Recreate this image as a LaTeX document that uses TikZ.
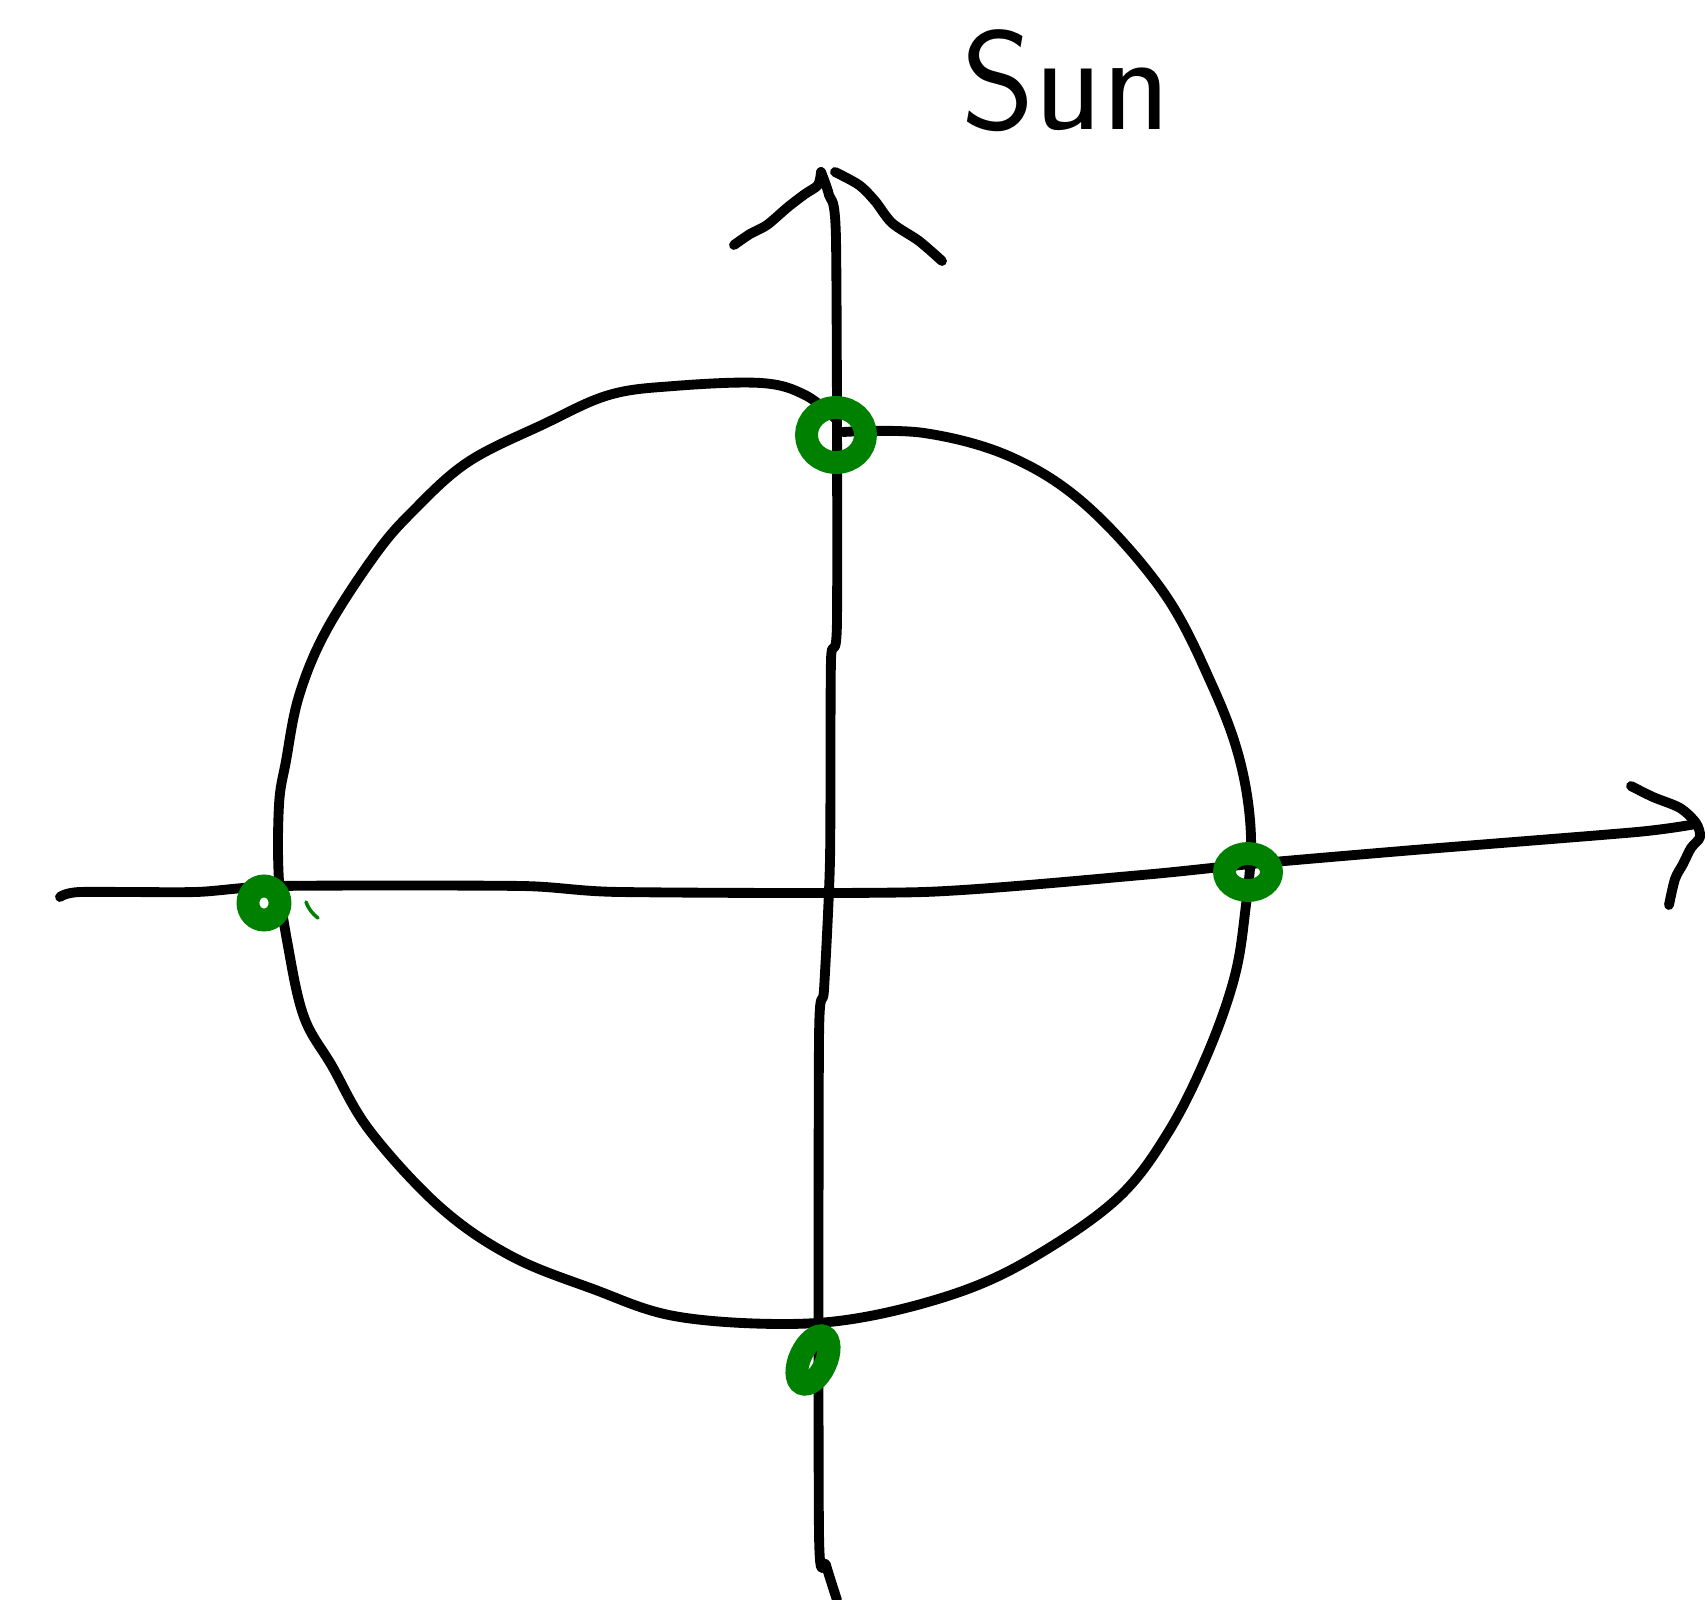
\documentclass[tikz,border=0pt]{standalone}
\usepackage{tikz}
\usetikzlibrary{positioning,shapes.geometric}
\definecolor{penblack}{RGB}{0,0,0}
\definecolor{pengreen}{RGB}{0,128,0}

\begin{document}
\begin{tikzpicture}[
    x=0.01cm, y=-0.01cm,
    ink/.style={
      draw=penblack,
      line width=2.8pt,
      line cap=round,
      line join=round
    },
    greenring/.style={
      ellipse,
      draw=pengreen,
      line width=6.5pt,
      inner sep=0pt
    },
    word/.style={
      font=\sffamily\fontsize{40}{44}\selectfont,
      inner sep=0pt,
      anchor=base
    }
]
  \useasboundingbox (0,0) rectangle (1705,1600);

  % Axis end points
  \coordinate (ybot)   at (837,1600);
  \coordinate (ytip)   at (821,172);
  \coordinate (xleft)  at (60,897);
  \coordinate (xtip)   at (1696,824);

  % Vertical axis
  \draw[ink] plot[smooth, tension=0.4] coordinates {
    (ytip) (829,195) (836,240) (837,620) (831,660) (830,860) (824,990)
    (819,1040) (819,1533) (826,1565) (ybot)};
  \draw[ink] plot[smooth] coordinates {
    (734,245) (750,234) (767,225) (788,207) (805,194) (818,185) (ytip)};
  \draw[ink] plot[smooth] coordinates {
    (835,172) (859,185) (875,201) (892,223) (919,241) (942,261)};

  % Horizontal axis
  \draw[ink] plot[smooth, tension=0.4] coordinates {
    (xleft) (80,892) (196,892) (279,886) (522,886) (620,892) (924,892)
    (1142,875) (1251,864) (1414,850) (1637,832) (xtip)};
  \draw[ink] plot[smooth] coordinates {
    (1631,786) (1653,797) (1680,808) (1696,823) (1700,837) (1691,848)
    (1683,864) (1675,879) (1669,905)};

  % Orbit
  \draw[ink] plot[smooth, tension=0.6] coordinates {
    (843,432) (924,433) (1011,457) (1087,506) (1164,593) (1212,685)
    (1240,761) (1251,837) (1245,913) (1234,979) (1207,1055) (1169,1131)
    (1120,1196) (1044,1251) (968,1289) (870,1316) (783,1324) (674,1316)
    (593,1289) (511,1256) (440,1207) (370,1131) (332,1066) (304,1017)
    (288,946) (279,881) (279,805) (286,761) (299,696) (326,631) (375,555)
    (413,511) (468,462) (544,424) (609,395) (674,386) (761,383) (805,395)
    (837,420)};

  % Green marks on the orbit
  \node[greenring, minimum width=0.59cm, minimum height=0.55cm] (mtop)   at (836,435) {};
  \node[greenring, minimum width=0.32cm, minimum height=0.34cm] (mleft)  at (264,903) {};
  \node[greenring, minimum width=0.47cm, minimum height=0.37cm] (mright) at (1248,872) {};
  \node[greenring, minimum width=0.26cm, minimum height=0.52cm, rotate=-25] (mbot) at (813,1360) {};
  \draw[draw=pengreen, line width=1pt, line cap=round] (306,902) to[bend right=15] (318,918);

  % Label
  \node[word] (sun) at (1066,130) {Sun};
\end{tikzpicture}
\end{document}
